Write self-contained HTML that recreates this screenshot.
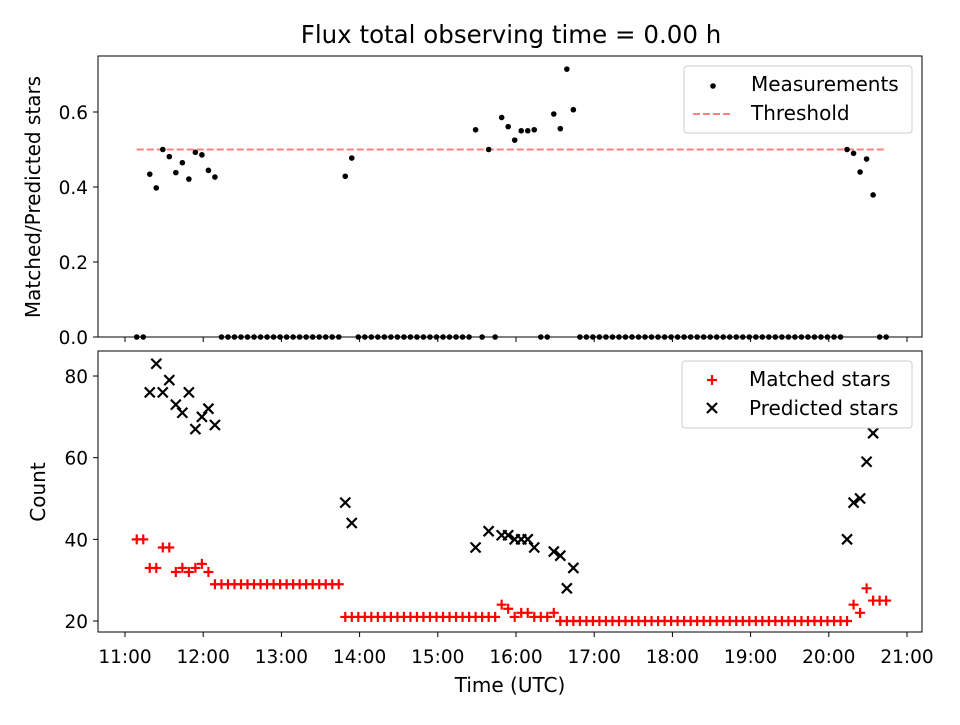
<!DOCTYPE html>
<html><head><meta charset="utf-8"><style>
body{margin:0;background:#fff}
svg text{font-family:"DejaVu Sans","Liberation Sans",sans-serif;fill:#000}
</style></head><body>
<svg id="chart" width="960" height="720" xmlns="http://www.w3.org/2000/svg">
<rect width="960" height="720" fill="#fff"/>
<text x="511" y="43" font-size="24.5" text-anchor="middle">Flux total observing time = 0.00 h</text>
<g id="topg"></g><g id="botg"></g>
</svg>
<script>
const times = [9,14,19,24,29,34,39,44,49,54,59,64,69,74,79,84,89,94,99,104,109,114,119,124,129,134,139,144,149,154,159,164,169,174,179,184,189,194,199,204,209,214,219,224,229,234,239,244,249,254,259,264,269,274,279,284,289,294,299,304,309,314,319,324,329,334,339,344,349,354,359,364,369,374,379,384,389,394,399,404,409,414,419,424,429,434,439,444,449,454,459,464,469,474,479,484,489,494,499,504,509,514,519,524,529,534,539,544,549,554,559,564,569,574,579,584];
const matched = [40,40,33,33,38,38,32,33,32,33,34,32,
29,29,29,29,29,29,29,29,29,29,29,29,29,29,29,29,29,29,29,29,
21,21,21,21,21,21,21,21,21,21,21,21,21,21,21,21,21,21,21,21,21,21,21,21,
24,23,21,22,22,21,21,21,22,
20,20,20,20,20,20,20,20,20,20,20,20,20,20,20,20,20,20,20,20,20,20,20,20,20,20,20,20,20,20,20,20,20,20,20,20,20,20,20,20,20,20,20,20,20,
24,22,28,25,25,25];
const N=null;
const predicted = [N,N,76,83,76,79,73,71,76,67,70,72,68,
N,N,N,N,N,N,N,N,N,N,N,N,N,N,N,N,N,N,N,
49,44,
N,N,N,N,N,N,N,N,N,N,N,N,N,N,N,N,N,N,
38,N,42,N,41,41,40,40,40,38,N,N,37,36,28,33,
N,N,N,N,N,N,N,N,N,N,N,N,N,N,N,N,N,N,N,N,N,N,N,N,N,N,N,N,N,N,N,N,N,N,N,N,N,N,N,N,N,
40,49,50,59,66,N,N];
const threshold = 0.5;
const topTicks = [0.0,0.2,0.4,0.6];
const botTicks = [20,40,60,80];
const xTicks = ["11:00","12:00","13:00","14:00","15:00","16:00","17:00","18:00","19:00","20:00","21:00"];

const NS="http://www.w3.org/2000/svg";
const L=98,R=922,T1=56,B1=337,T2=351,B2=632;
const xs=m=>125+78.2*(m/60);
const y1=v=>337-v*375;
const y2=v=>621-(v-20)*4.083;
function mk(p,tag,at){const e=document.createElementNS(NS,tag);for(const k in at)e.setAttribute(k,at[k]);p.appendChild(e);return e;}
const gTop=document.getElementById('topg'),gBot=document.getElementById('botg');
const FS=18.5, LS=20;

let f=mk(gTop,'rect',{x:L,y:T1,width:R-L,height:B1-T1,fill:'none',stroke:'#000','stroke-width':1});


f=mk(gBot,'rect',{x:L,y:T2,width:R-L,height:B2-T2,fill:'none',stroke:'#000','stroke-width':1});



xTicks.forEach((lab,i)=>{const x=xs(i*60);
 let t=mk(gTop,'line',{x1:x,x2:x,y1:B1,y2:B1+5,stroke:'#000'});
 
 
 t=mk(gBot,'line',{x1:x,x2:x,y1:B2,y2:B2+5,stroke:'#000'});
 
 
 const tx=mk(gBot,'text',{x:x,y:B2+31,'font-size':FS,'text-anchor':'middle'});tx.textContent=lab;
 
 
});
topTicks.forEach(v=>{const y=y1(v);
 const t=mk(gTop,'line',{x1:L-5,x2:L,y1:y,y2:y,stroke:'#000'});
 
 
 const tx=mk(gTop,'text',{x:L-10,y:y+7,'font-size':FS,'text-anchor':'end'});tx.textContent=v.toFixed(1);
 
 
});
botTicks.forEach(v=>{const y=y2(v);
 const t=mk(gBot,'line',{x1:L-5,x2:L,y1:y,y2:y,stroke:'#000'});
 
 
 const tx=mk(gBot,'text',{x:L-10,y:y+7,'font-size':FS,'text-anchor':'end'});tx.textContent=v;
 
 
});
let lab=mk(gTop,'text',{x:0,y:0,'font-size':LS,'text-anchor':'middle',transform:'translate(40,197) rotate(-90)'});lab.textContent='Matched/Predicted stars';


lab=mk(gBot,'text',{x:0,y:0,'font-size':LS,'text-anchor':'middle',transform:'translate(45,492) rotate(-90)'});lab.textContent='Count';


lab=mk(gBot,'text',{x:510,y:692,'font-size':LS,'text-anchor':'middle'});lab.textContent='Time (UTC)';



const th=mk(gTop,'line',{x1:xs(times[0]),x2:xs(times[times.length-1]),y1:y1(threshold),y2:y1(threshold),stroke:'#ff7f7f','stroke-width':2,'stroke-dasharray':'7,3'});



times.forEach((m,i)=>{const p=predicted[i];const r=(p?matched[i]/p:0);
 const c=mk(gTop,'circle',{cx:xs(m),cy:y1(r),r:2.8,fill:'#000'});
 
 
});
times.forEach((m,i)=>{const x=xs(m),y=y2(matched[i]);
 const g=mk(gBot,'path',{d:`M${x-5},${y}H${x+5}M${x},${y-5}V${y+5}`,stroke:'#f00','stroke-width':2.2,fill:'none'});
 
 
});
times.forEach((m,i)=>{if(predicted[i]==null)return;const x=xs(m),y=y2(predicted[i]);
 const g=mk(gBot,'path',{d:`M${x-5},${y-5}L${x+5},${y+5}M${x-5},${y+5}L${x+5},${y-5}`,stroke:'#000','stroke-width':2.2,fill:'none'});
 
 
});

let lg=mk(gTop,'rect',{x:684,y:66,width:228,height:67,rx:3,fill:'#fff','fill-opacity':0.8,stroke:'#ccc'});


let e=mk(gTop,'circle',{cx:713,cy:86,r:2.8,fill:'#000'});


e=mk(gTop,'text',{x:751,y:91,'font-size':LS});e.textContent='Measurements';


e=mk(gTop,'line',{x1:693,x2:733,y1:114,y2:114,stroke:'#ff7f7f','stroke-width':2,'stroke-dasharray':'7,3'});


e=mk(gTop,'text',{x:751,y:120,'font-size':LS});e.textContent='Threshold';



lg=mk(gBot,'rect',{x:682,y:361,width:230,height:67,rx:3,fill:'#fff','fill-opacity':0.8,stroke:'#ccc'});


e=mk(gBot,'path',{d:'M707,380H717M712,375V385',stroke:'#f00','stroke-width':2.2});


e=mk(gBot,'text',{x:749,y:386,'font-size':LS});e.textContent='Matched stars';


e=mk(gBot,'path',{d:'M707,403L717,413M707,413L717,403',stroke:'#000','stroke-width':2.2});


e=mk(gBot,'text',{x:749,y:415,'font-size':LS});e.textContent='Predicted stars';


</script>
</body></html>
